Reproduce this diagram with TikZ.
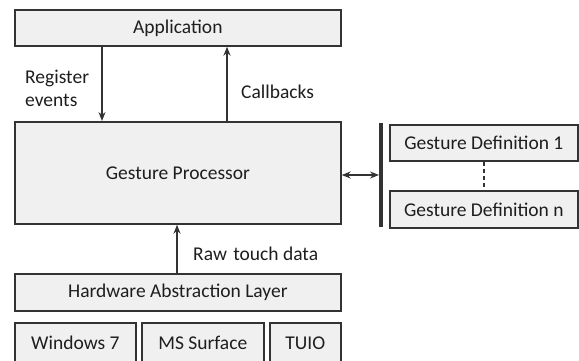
\documentclass[tikz,border=0pt]{standalone}
\usepackage{fontspec}
\setmainfont{Carlito}
\usetikzlibrary{arrows.meta,shadows}
\definecolor{boxfill}{HTML}{F0F0F0}
\definecolor{boxline}{HTML}{333333}
\definecolor{txt}{HTML}{1E1E1E}
\tikzset{
  blk/.style={draw=boxline, line width=1.7pt, fill=boxfill, inner sep=0pt,
    font=\fontsize{19.5}{22}\selectfont, text=txt,
    drop shadow={shadow xshift=1.5pt, shadow yshift=-1.5pt, fill=black!25, opacity=0.6}},
  conn/.style={draw=boxline, line width=1.4pt, -{Stealth[length=9pt,width=7pt]}},
  lbl/.style={font=\fontsize{19.5}{23}\selectfont, text=txt, inner sep=0pt, align=left},
}
\begin{document}
\begin{tikzpicture}[x=1pt,y=-1pt]
\useasboundingbox (0,0) rectangle (579,360);
\node[blk, minimum width=326pt, minimum height=36pt, anchor=north west] (app) at (14,9) {Application};
\node[blk, minimum width=326pt, minimum height=102pt, anchor=north west] (gp) at (14,121) {Gesture Processor};
\node[blk, minimum width=326pt, minimum height=37pt, anchor=north west] (hal) at (14,273) {Hardware Abstraction Layer};
\node[blk, minimum width=121pt, minimum height=40pt, anchor=north west] (win) at (14,322) {Windows 7};
\node[blk, minimum width=122pt, minimum height=40pt, anchor=north west] (ms) at (141,322) {MS Surface};
\node[blk, minimum width=71pt, minimum height=40pt, anchor=north west] (tuio) at (269,322) {TUIO};
\node[blk, minimum width=188pt, minimum height=36pt, anchor=north west] (gd1) at (389,124) {Gesture Definition 1};
\node[blk, minimum width=188pt, minimum height=37pt, anchor=north west] (gdn) at (389,190) {Gesture Definition n};
\coordinate (bartop) at (381,123);
\coordinate (barbot) at (381,227);
\draw[draw=boxline, line width=3.2pt] (bartop) -- (barbot);
\coordinate (barmid) at (379,175);
% connectors
\draw[conn] (app.south -| 102,0) -- (gp.north -| 102,0);
\draw[conn] (gp.north -| 227,0) -- (app.south -| 227,0);
\draw[conn] (hal.north -| 177,0) -- (gp.south -| 177,0);
\draw[draw=boxline, line width=1.4pt, {Stealth[length=9pt,width=7pt]}-{Stealth[length=9pt,width=7pt]}] (gp.east |- barmid) -- (barmid);
\draw[draw=boxline, line width=1.4pt, dashed, dash pattern=on 4pt off 3pt] (gd1.south) -- (gdn.north);
% labels
\node[lbl, anchor=north west] (reg) at (25,70) {Register\\events};
\node[lbl, anchor=west] (cb) at (241,92) {Callbacks};
\node[lbl, anchor=west] (raw) at (193,254) {Raw\hspace{2pt} touch data};
\end{tikzpicture}
\end{document}
